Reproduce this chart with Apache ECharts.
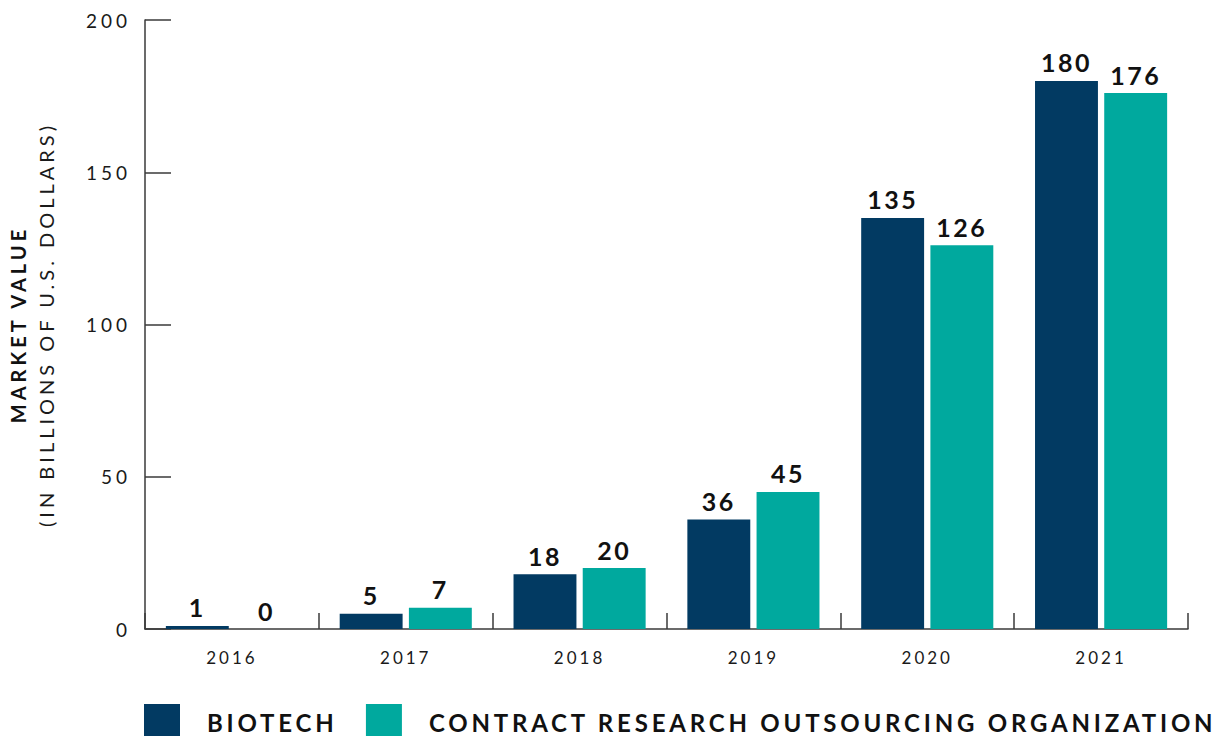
<!DOCTYPE html>
<html lang="en">
<head>
    <meta charset="utf-8">
    <script src="https://cdn.jsdelivr.net/npm/echarts@6/dist/echarts.min.js"></script>
    <style>
        html, body { margin: 0; padding: 0; background: #fff; }
        #chart { width: 1225px; height: 736px; }
        /* wide tracking like the original artwork */
        #chart text[style*="17px"] { letter-spacing: 3px; }
        #chart text[style*="19px"] { letter-spacing: 4px; }
        #chart text[style*="20px"] { letter-spacing: 4px; }
        #chart text[style*="24px"] { letter-spacing: 3.8px; }
        #chart text[style*="25px"] { letter-spacing: 2.5px; }
    </style>
</head>
<body>
<div id="chart"></div>
<script>
    var years = ['2016', '2017', '2018', '2019', '2020', '2021'];
    var biotech = [1, 5, 18, 36, 135, 180];
    var cro = [0, 7, 20, 45, 126, 176];
    var seriesNames = ['BIOTECH', 'CONTRACT RESEARCH OUTSOURCING ORGANIZATION'];

    var navy = '#023a62';
    var teal = '#00a99e';
    var axisColor = '#3a3a3a';

    var chart = echarts.init(document.getElementById('chart'), null, {renderer: 'svg'});

    var barLabel = {
        show: true,
        position: 'top',
        distance: 6,
        color: '#111',
        fontFamily: 'Lato',
        fontWeight: 'bold',
        fontSize: 25
    };

    var option = {
        animation: false,
        backgroundColor: '#fff',
        grid: {
            left: 145,
            right: 37,
            top: 20,
            bottom: 107
        },
        legend: {
            data: seriesNames,
            left: 139,
            top: 699,
            icon: 'rect',
            itemWidth: 36,
            itemHeight: 36,
            itemGap: 55,
            textStyle: {
                color: '#111',
                fontFamily: 'Lato',
                fontWeight: 'bold',
                fontSize: 24,
                padding: [0, 0, 4, 22]
            }
        },
        xAxis: {
            type: 'category',
            data: years,
            axisLine: {lineStyle: {color: axisColor, width: 1.5}},
            axisTick: {show: true, inside: true, length: 16, lineStyle: {color: axisColor, width: 1.5}},
            axisLabel: {
                color: '#1a1a1a',
                fontFamily: 'Lato',
                fontSize: 17,
                margin: 20
            }
        },
        yAxis: {
            type: 'value',
            min: 0,
            max: 200,
            interval: 50,
            name: '{a|MARKET VALUE}\n{b|(IN BILLIONS OF U.S. DOLLARS)}',
            nameLocation: 'middle',
            nameRotate: 90,
            nameGap: 85,
            nameTextStyle: {
                rich: {
                    a: {fontFamily: 'Lato', fontWeight: 'bold', fontSize: 20, color: '#111', lineHeight: 28},
                    b: {fontFamily: 'Lato', fontSize: 20, color: '#1a1a1a', lineHeight: 28}
                }
            },
            axisLine: {show: true, lineStyle: {color: axisColor, width: 1.5}},
            axisTick: {show: true, inside: true, length: 26, lineStyle: {color: axisColor, width: 1.5}},
            splitLine: {show: false},
            axisLabel: {
                color: '#1a1a1a',
                fontFamily: 'Lato',
                fontSize: 19,
                margin: 14
            }
        },
        series: [
            {
                name: seriesNames[0],
                type: 'bar',
                data: biotech,
                barCategoryGap: '24%',
                barGap: '10%',
                itemStyle: {color: navy},
                label: barLabel
            },
            {
                name: seriesNames[1],
                type: 'bar',
                data: cro,
                barCategoryGap: '24%',
                barGap: '10%',
                itemStyle: {color: teal},
                label: barLabel
            }
        ]
    };

    chart.setOption(option);
</script>
</body>
</html>
